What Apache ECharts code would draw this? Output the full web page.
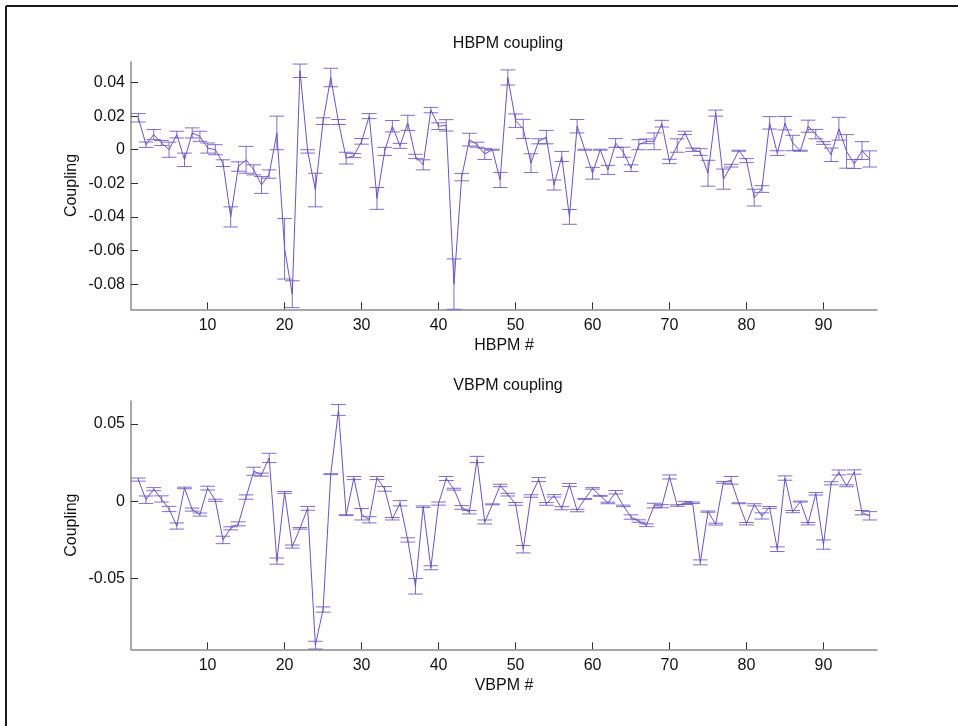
<!DOCTYPE html>
<html>
<head>
<meta charset="utf-8">
<script src="https://cdn.jsdelivr.net/npm/echarts@6/dist/echarts.min.js"></script>
<style>
html,body{margin:0;padding:0;background:#fff;}
#chart{width:958px;height:726px;}
</style>
</head>
<body>
<div id="chart"></div>
<script>
// BPM index (x categories)
const bpmIndex = [1,2,3,4,5,6,7,8,9,10,11,12,13,14,15,16,17,18,19,20,21,22,23,24,25,26,27,28,29,30,31,32,33,34,35,36,37,38,39,40,41,42,43,44,45,46,47,48,49,50,51,52,53,54,55,56,57,58,59,60,61,62,63,64,65,66,67,68,69,70,71,72,73,74,75,76,77,78,79,80,81,82,83,84,85,86,87,88,89,90,91,92,93,94,95,96];

// HBPM coupling values and error half-widths
const hbpmValues = [0.019,0.003,0.009,0.004,0.000,0.009,-0.006,0.010,0.008,0.001,0.000,-0.008,-0.040,-0.010,-0.006,-0.012,-0.021,-0.0145,0.010,-0.059,-0.086,0.047,-0.001,-0.024,0.017,0.043,0.0165,-0.005,-0.0035,0.005,0.020,-0.029,-0.001,0.014,0.0023,0.016,-0.004,-0.009,0.0236,0.014,0.0145,-0.080,-0.0163,0.006,0.003,-0.0025,0.000,-0.018,0.043,0.0173,0.0124,-0.008,0.005,0.0075,-0.021,-0.004,-0.040,0.014,0.000,-0.014,0.000,-0.012,0.004,-0.0015,-0.011,0.003,0.005,0.005,0.0155,-0.007,0.0025,0.010,0.000,-0.0014,-0.014,0.0218,-0.0175,-0.0095,-0.0006,-0.0065,-0.0285,-0.0234,0.016,-0.002,0.0158,0.004,-0.0006,0.014,0.0093,0.004,-0.003,0.0125,-0.001,-0.0085,-0.0005,-0.0055];
const hbpmErrors = [0.0025,0.0016,0.003,0.0015,0.0045,0.002,0.004,0.003,0.003,0.003,0.003,0.002,0.006,0.0028,0.008,0.003,0.005,0.0025,0.010,0.018,0.008,0.004,0.001,0.010,0.002,0.0055,0.0015,0.0035,0.0012,0.0017,0.0015,0.0065,0.0024,0.0034,0.0015,0.0045,0.0013,0.003,0.0016,0.002,0.0034,0.015,0.0022,0.0038,0.0015,0.0033,0.0003,0.0045,0.0045,0.004,0.0057,0.0056,0.0015,0.004,0.003,0.003,0.0044,0.004,0.0003,0.0035,0.0003,0.0027,0.0026,0.003,0.002,0.003,0.0014,0.005,0.002,0.0013,0.004,0.001,0.001,0.002,0.0077,0.0018,0.006,0.0008,0.0003,0.0012,0.005,0.002,0.0037,0.0014,0.004,0.0046,0.0003,0.0036,0.0028,0.0008,0.004,0.0068,0.010,0.0027,0.0053,0.0048];

// VBPM coupling values and error half-widths
const vbpmValues = [0.014,0.001,0.0078,0.0015,-0.005,-0.016,0.0086,-0.0054,-0.0086,0.0085,0.0006,-0.025,-0.0175,-0.0146,0.0027,0.0194,0.0172,0.028,-0.0387,0.0057,-0.0293,-0.0175,-0.0046,-0.093,-0.070,0.0175,0.059,-0.009,0.015,-0.0084,-0.012,0.015,0.008,-0.0113,-0.0013,-0.025,-0.055,-0.0035,-0.043,-0.0015,0.0147,0.0078,-0.004,-0.0071,0.027,-0.0134,-0.002,0.0102,0.0043,-0.0017,-0.031,0.0034,0.014,-0.0017,0.0035,-0.0045,0.0105,-0.006,0.0015,0.0083,0.0035,-0.0011,0.0058,-0.003,-0.0102,-0.0128,-0.0155,-0.0028,-0.0032,0.0157,-0.0028,-0.0011,-0.001,-0.0395,-0.0067,-0.0148,0.0122,0.0135,-0.0013,-0.0145,-0.0023,-0.0095,-0.004,-0.031,0.015,-0.0067,-0.0002,-0.0145,0.0048,-0.028,0.0116,0.0186,0.010,0.0189,-0.0074,-0.0094];
const vbpmErrors = [0.001,0.0024,0.001,0.002,0.0017,0.002,0.0005,0.001,0.001,0.0012,0.0007,0.0024,0.001,0.0013,0.0014,0.0026,0.001,0.003,0.002,0.0006,0.001,0.0005,0.0012,0.0025,0.0017,0.0003,0.0035,0.0003,0.001,0.0037,0.002,0.001,0.0015,0.0008,0.0017,0.0014,0.005,0.0005,0.0013,0.001,0.0013,0.0006,0.0012,0.0011,0.002,0.0013,0.0003,0.0008,0.0009,0.0009,0.0024,0.0008,0.0013,0.0009,0.0008,0.001,0.001,0.0008,0.0003,0.0005,0.0003,0.0005,0.0011,0.0005,0.0014,0.0008,0.0009,0.0015,0.001,0.0013,0.0005,0.001,0.0005,0.0016,0.0004,0.0006,0.0006,0.0025,0.0003,0.0008,0.0007,0.002,0.0006,0.0015,0.0014,0.0007,0.0003,0.0008,0.0008,0.003,0.001,0.0016,0.0006,0.0014,0.0014,0.0027];

// tick labels
const xTicks = [10,20,30,40,50,60,70,80,90];
const hYTicks = [-0.08,-0.06,-0.04,-0.02,0,0.02,0.04];
const vYTicks = [-0.05,0,0.05];

const FONT = "'Liberation Sans', Arial, Helvetica, sans-serif";
const FS = 16;
const LINE_COLOR = '#6a55c0';
const CAP_HALF = 0.95;

const chart = echarts.init(document.getElementById('chart'), null, {renderer: 'canvas'});

function lineData(vals) { return bpmIndex.map((x, i) => [x, vals[i]]); }
function errData(vals, errs) { return bpmIndex.map((x, i) => [x, vals[i] - errs[i], vals[i] + errs[i]]); }

function renderErr(params, api) {
  const x = api.value(0), lo = api.value(1), hi = api.value(2);
  const pLo = api.coord([x, lo]);
  const pHi = api.coord([x, hi]);
  const pL = api.coord([x - CAP_HALF, lo]);
  const pR = api.coord([x + CAP_HALF, lo]);
  const style = {stroke: LINE_COLOR, lineWidth: 1, opacity: 0.85};
  return {
    type: 'group',
    children: [
      {type: 'line', shape: {x1: pLo[0], y1: pLo[1], x2: pHi[0], y2: pHi[1]}, style: style},
      {type: 'line', shape: {x1: pL[0], y1: pHi[1], x2: pR[0], y2: pHi[1]}, style: style},
      {type: 'line', shape: {x1: pL[0], y1: pLo[1], x2: pR[0], y2: pLo[1]}, style: style}
    ]
  };
}

function fmt(v) { return String(Math.round(v * 1000) / 1000); }

function xAxisCfg(gridIndex, name) {
  return {
    type: 'value', gridIndex: gridIndex, min: 0.05, max: 96.95,
    name: name, nameLocation: 'middle', nameGap: 28, nameMoveOverlap: false,
    nameTextStyle: {fontFamily: FONT, fontSize: FS, color: '#111'},
    splitLine: {show: false},
    axisLine: {show: true, onZero: false, lineStyle: {color: '#8c8c8c', width: 1.5}},
    axisTick: {show: true, inside: true, length: 7, lineStyle: {color: '#333'}, customValues: xTicks},
    axisLabel: {show: true, margin: 8, fontFamily: FONT, fontSize: FS, color: '#111', customValues: xTicks, formatter: fmt}
  };
}
function yAxisCfg(gridIndex, min, max, ticks) {
  return {
    type: 'value', gridIndex: gridIndex, min: min, max: max,
    name: 'Coupling', nameLocation: 'middle', nameGap: 51, nameMoveOverlap: false,
    nameTextStyle: {fontFamily: FONT, fontSize: FS, color: '#111'},
    splitLine: {show: false},
    axisLine: {show: true, onZero: false, lineStyle: {color: '#8c8c8c', width: 1.5}},
    axisTick: {show: true, inside: true, length: 7, lineStyle: {color: '#333'}, customValues: ticks},
    axisLabel: {show: true, margin: 6, fontFamily: FONT, fontSize: FS, color: '#111', customValues: ticks, formatter: fmt}
  };
}

const option = {
  backgroundColor: '#ffffff',
  animation: false,
  title: [
    {text: 'HBPM coupling', left: 503, top: 31, textAlign: 'center',
     textStyle: {fontFamily: FONT, fontSize: FS, fontWeight: 'normal', color: '#111'}},
    {text: 'VBPM coupling', left: 503, top: 373, textAlign: 'center',
     textStyle: {fontFamily: FONT, fontSize: FS, fontWeight: 'normal', color: '#111'}}
  ],
  grid: [
    {left: 131, top: 61.7, width: 746, height: 247.6},
    {left: 131, top: 401, width: 746, height: 248.3}
  ],
  xAxis: [xAxisCfg(0, 'HBPM #'), xAxisCfg(1, 'VBPM #')],
  yAxis: [yAxisCfg(0, -0.095, 0.0524, hYTicks), yAxisCfg(1, -0.0957, 0.0648, vYTicks)],
  graphic: [
    {type: 'line', shape: {x1: 6, y1: 6, x2: 958, y2: 6}, style: {stroke: '#1a1a1a', lineWidth: 2}, silent: true},
    {type: 'line', shape: {x1: 6, y1: 6, x2: 6, y2: 726}, style: {stroke: '#1a1a1a', lineWidth: 2}, silent: true}
  ],
  series: [
    {type: 'line', xAxisIndex: 0, yAxisIndex: 0, data: lineData(hbpmValues), showSymbol: false, symbol: 'none',
     lineStyle: {color: LINE_COLOR, width: 1}, z: 3},
    {type: 'custom', xAxisIndex: 0, yAxisIndex: 0, data: errData(hbpmValues, hbpmErrors), renderItem: renderErr, z: 2},
    {type: 'line', xAxisIndex: 1, yAxisIndex: 1, data: lineData(vbpmValues), showSymbol: false, symbol: 'none',
     lineStyle: {color: LINE_COLOR, width: 1}, z: 3},
    {type: 'custom', xAxisIndex: 1, yAxisIndex: 1, data: errData(vbpmValues, vbpmErrors), renderItem: renderErr, z: 2}
  ]
};
chart.setOption(option);
</script>
</body>
</html>
